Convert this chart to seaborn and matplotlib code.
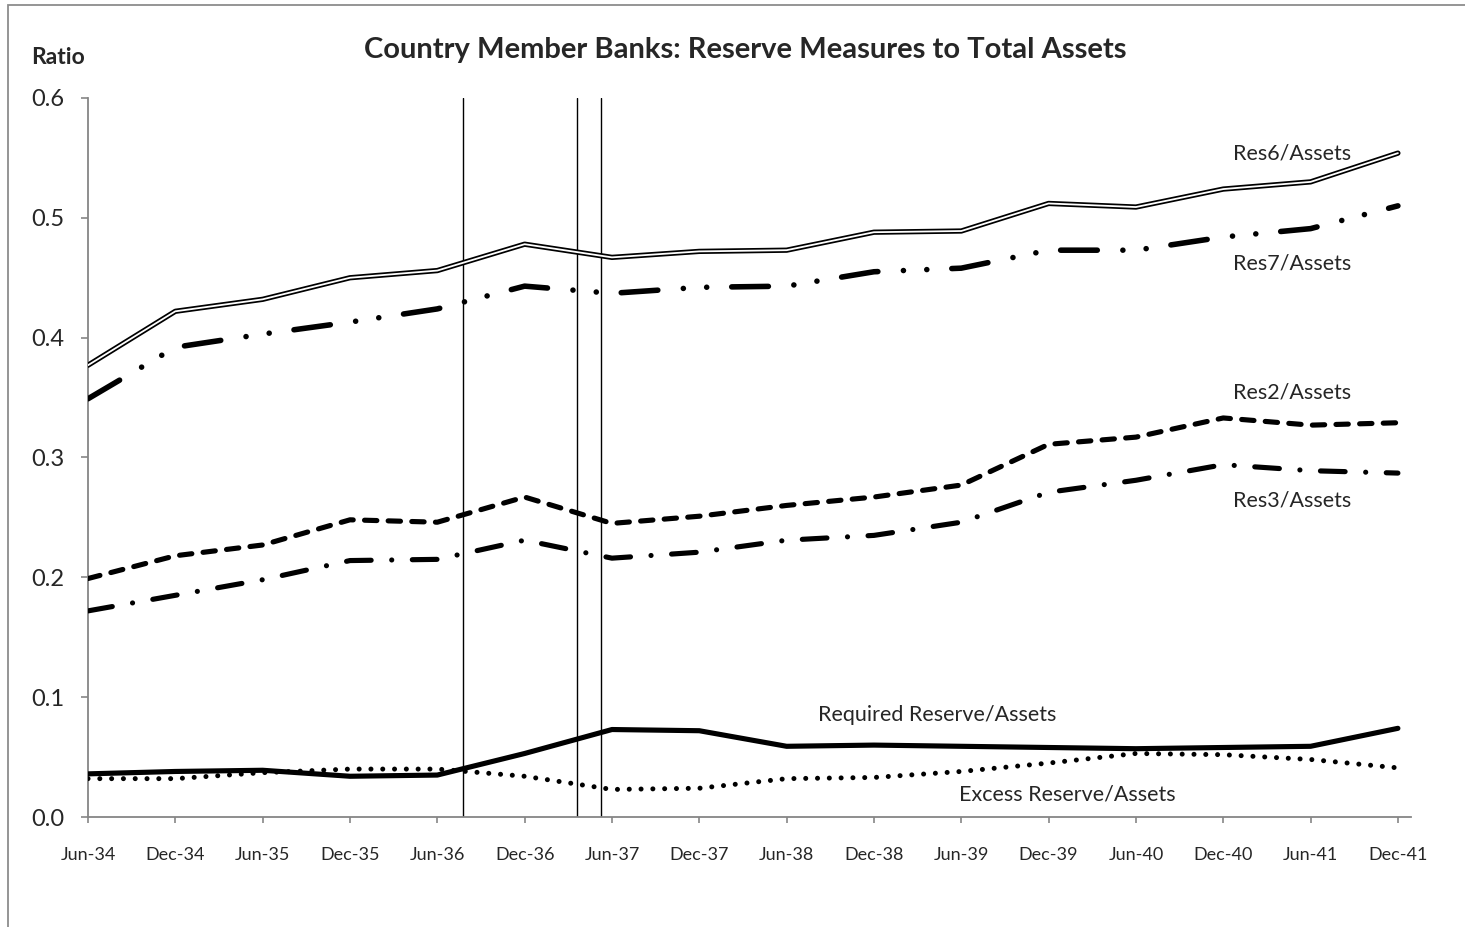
import numpy as np
import pandas as pd
import matplotlib
matplotlib.use("Agg")
import matplotlib.pyplot as plt
import matplotlib.patches as mpatches
import seaborn as sns

# ---------------- data ----------------
dates = ["Jun-34", "Dec-34", "Jun-35", "Dec-35", "Jun-36", "Dec-36", "Jun-37", "Dec-37",
         "Jun-38", "Dec-38", "Jun-39", "Dec-39", "Jun-40", "Dec-40", "Jun-41", "Dec-41"]
res6 = [0.377, 0.422, 0.432, 0.450, 0.456, 0.478, 0.467, 0.472,
        0.473, 0.488, 0.489, 0.512, 0.509, 0.524, 0.530, 0.554]
res7 = [0.349, 0.392, 0.403, 0.413, 0.424, 0.443, 0.437, 0.442,
        0.443, 0.455, 0.458, 0.473, 0.473, 0.484, 0.491, 0.510]
res2 = [0.199, 0.218, 0.227, 0.248, 0.246, 0.267, 0.245, 0.251,
        0.260, 0.267, 0.277, 0.311, 0.317, 0.333, 0.327, 0.329]
res3 = [0.172, 0.185, 0.198, 0.214, 0.215, 0.231, 0.216, 0.221,
        0.231, 0.235, 0.246, 0.271, 0.281, 0.294, 0.289, 0.287]
required = [0.036, 0.038, 0.039, 0.034, 0.035, 0.053, 0.073, 0.072,
            0.059, 0.060, 0.059, 0.058, 0.057, 0.058, 0.059, 0.074]
excess = [0.032, 0.032, 0.037, 0.040, 0.040, 0.034, 0.023, 0.024,
          0.032, 0.033, 0.038, 0.045, 0.053, 0.052, 0.048, 0.041]
# reserve requirement change dates (fractional position between observations)
events = [4.295, 5.60, 5.873]

series_names = ["Res6/Assets", "Res7/Assets", "Res2/Assets", "Res3/Assets",
                "Required Reserve/Assets", "Excess Reserve/Assets"]
series_values = [res6, res7, res2, res3, required, excess]

rows = []
for name, vals in zip(series_names, series_values):
    for i, v in enumerate(vals):
        rows.append({"pos": i, "date": dates[i], "series": name, "value": v})
df = pd.DataFrame(rows)

# ---------------- style ----------------
sns.set_style("white")
plt.rcParams["font.family"] = ["Lato", "DejaVu Sans"]

fig = plt.figure(figsize=(14.65, 9.27), dpi=100)
ax = fig.add_axes([88 / 1465, 1 - 817 / 927, (1411 - 88) / 1465, (817 - 98) / 927])

def sub(name):
    return df[df["series"] == name]

# Res6: double line (black outline, white core)
sns.lineplot(data=sub("Res6/Assets"), x="pos", y="value", ax=ax, color="black",
             linewidth=3.8, solid_capstyle="round", solid_joinstyle="round", zorder=3)
sns.lineplot(data=sub("Res6/Assets"), x="pos", y="value", ax=ax, color="white",
             linewidth=1.3, solid_capstyle="round", solid_joinstyle="round", zorder=4)
# Res7: long dash - dot - dot
sns.lineplot(data=sub("Res7/Assets"), x="pos", y="value", ax=ax, color="black",
             linewidth=4.0, linestyle=(0, (6.6, 4.6, 0.01, 4.2, 0.01, 4.5)),
             dash_capstyle="round", solid_joinstyle="round", zorder=3)
# Res2: dashed
sns.lineplot(data=sub("Res2/Assets"), x="pos", y="value", ax=ax, color="black",
             linewidth=3.7, linestyle=(0, (2.4, 2.2)),
             dash_capstyle="round", zorder=3)
# Res3: dash-dot
sns.lineplot(data=sub("Res3/Assets"), x="pos", y="value", ax=ax, color="black",
             linewidth=3.7, linestyle=(0, (4.8, 4.0, 0.01, 4.0)),
             dash_capstyle="round", zorder=3)
# Excess: dotted
sns.lineplot(data=sub("Excess Reserve/Assets"), x="pos", y="value", ax=ax, color="black",
             linewidth=3.6, linestyle=(0, (0.01, 2.35)),
             dash_capstyle="round", zorder=3)
# Required: solid thick
sns.lineplot(data=sub("Required Reserve/Assets"), x="pos", y="value", ax=ax, color="black",
             linewidth=3.7, solid_joinstyle="round", zorder=3)

for ev in events:
    ax.axvline(ev, color="black", linewidth=1.0, zorder=2)

# ---------------- axes ----------------
ax.set_xlim(0, 15.15)
ax.set_ylim(0, 0.6)
ax.set_xticks(range(len(dates)))
ax.set_xticklabels(dates)
ax.set_yticks(np.arange(0, 0.61, 0.1))
ax.set_yticklabels([f"{t:.1f}" for t in np.arange(0, 0.61, 0.1)])
ax.set_xlabel("")
ax.set_ylabel("")

gray = "#868686"
for s in ["top", "right"]:
    ax.spines[s].set_visible(False)
for s in ["left", "bottom"]:
    ax.spines[s].set_color(gray)
    ax.spines[s].set_linewidth(1.3)
ax.tick_params(axis="y", direction="out", length=5, width=1.2, color=gray,
               labelsize=17, pad=12, left=True)
ax.tick_params(axis="x", direction="out", length=4.5, width=1.2, color=gray,
               labelsize=13, pad=17, bottom=True)

# ---------------- texts ----------------
fig.text(745 / 1465, 1 - 50 / 927, "Country Member Banks: Reserve Measures to Total Assets",
         ha="center", va="center", fontsize=21, fontweight="bold")
fig.text(31 / 1465, 1 - 57 / 927, "Ratio", ha="left", va="center",
         fontsize=16.5, fontweight="bold")

lab_fs = 15.5
ax.text(13.79, 0.554, "Res6/Assets", ha="center", va="center", fontsize=lab_fs)
ax.text(13.79, 0.4615, "Res7/Assets", ha="center", va="center", fontsize=lab_fs)
ax.text(13.79, 0.354, "Res2/Assets", ha="center", va="center", fontsize=lab_fs)
ax.text(13.79, 0.2645, "Res3/Assets", ha="center", va="center", fontsize=lab_fs)
ax.text(9.725, 0.085, "Required Reserve/Assets", ha="center", va="center", fontsize=lab_fs)
ax.text(11.21, 0.0184, "Excess Reserve/Assets", ha="center", va="center", fontsize=lab_fs)

# outer chart border
fig.patches.append(mpatches.Rectangle((8 / 1465, -0.05), 1.2, 1 - 5 / 927 + 0.05,
                                      transform=fig.transFigure, fill=False,
                                      edgecolor="#8c8c8c", linewidth=1.3))

fig.savefig("out.png", dpi=100)
